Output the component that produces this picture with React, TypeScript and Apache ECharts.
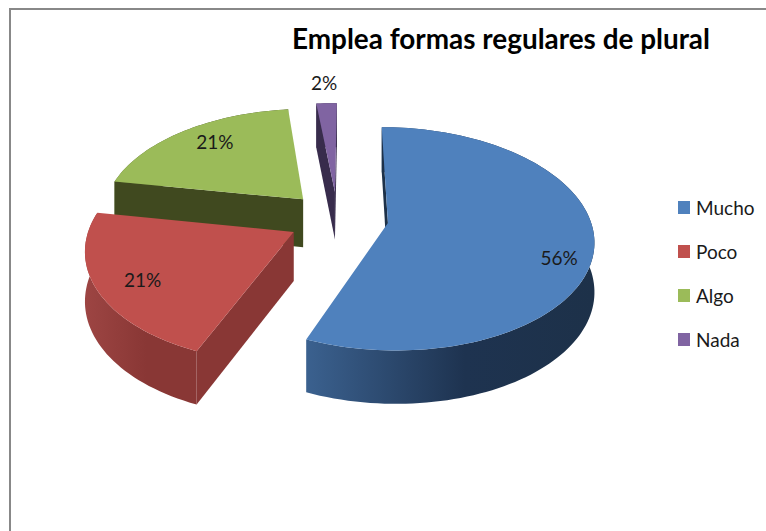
import React, { useEffect, useRef } from "react";
import * as echarts from "echarts";

const categories = ["Mucho", "Poco", "Algo", "Nada"];
const values = [56, 21, 21, 2];
const topColors = ["#4f81bd", "#c0504d", "#9bbb59", "#8064a2"];
const cutColors = ["#1d3149", "#893735", "#40491f", "#382c4c"];
const wallStops = [
  ["#3b618f", "#1e3350", "#1d3149"],
  ["#9d4543", "#893735", "#893735"],
  ["#5a6e33", "#40491f", "#40491f"],
  ["#4c3c62", "#382c4c", "#382c4c"],
];
const labelRadius = [0.85, 0.79, 0.79, 1.27];
const labelTurn = [0.17, 0, 0.1, 0.01];
const drawOrder = [3, 2, 1, 0];

const FONT = "Lato, 'Open Sans', sans-serif";
const CX = 338, CY = 218, RX = 202, RY = 108, K = 0.14, EXPLODE = 0.25, DEPTH = 48.5;
const total = values.reduce((a, b) => a + b, 0);
const DEG = Math.PI / 180;

function project(X: number, Y: number) {
  const s = 1 / (1 + K * Y);
  return { x: CX + X * RX * s, y: CY - Y * RY * s, h: DEPTH * Math.pow(s, 0.6) };
}

// The original's 3-D view turns the rear left of the pie slightly.
function viewAngle(a: number) {
  if (a <= 185 * DEG) return a;
  return a + 3 * DEG * Math.sin((Math.PI * (a - 185 * DEG)) / (185 * DEG));
}

function sliceAngles(i: number) {
  const before = values.slice(0, i).reduce((a, b) => a + b, 0);
  return [(before / total) * Math.PI * 2, ((before + values[i]) / total) * Math.PI * 2];
}

function renderSlice(i: number) {
  const [a0, a1] = sliceAngles(i);
  const mid = (a0 + a1) / 2;
  const ox = Math.sin(mid) * EXPLODE;
  const oy = Math.cos(mid) * EXPLODE;
  const apex = project(ox, oy);
  const arc: { x: number; y: number; h: number }[] = [];
  const steps = Math.max(4, Math.ceil((a1 - a0) / 0.03));
  for (let k = 0; k <= steps; k++) {
    const a = viewAngle(a0 + ((a1 - a0) * k) / steps);
    arc.push(project(ox + Math.sin(a), oy + Math.cos(a)));
  }
  const first = arc[0];
  const last = arc[arc.length - 1];
  const quad = (p: any, q: any) => [
    [p.x, p.y], [q.x, q.y], [q.x, q.y + q.h], [p.x, p.y + p.h],
  ];
  const wall = [
    ...arc.map((p) => [p.x, p.y]),
    ...arc.slice().reverse().map((p) => [p.x, p.y + p.h]),
  ];
  const top = [[apex.x, apex.y], ...arc.map((p) => [p.x, p.y])];
  const lr = labelRadius[i];
  const la = mid + labelTurn[i];
  const lab = project(ox + Math.sin(la) * lr, oy + Math.cos(la) * lr);
  const stops = wallStops[i];
  const cuts: any[] = [];
  if (first.x < apex.x) {
    cuts.push({ type: "polygon", shape: { points: quad(apex, first) }, style: { fill: cutColors[i] } });
  }
  if (last.x > apex.x) {
    cuts.push({ type: "polygon", shape: { points: quad(apex, last) }, style: { fill: cutColors[i] } });
  }
  return {
    type: "group",
    children: [
      {
        type: "polygon",
        shape: { points: wall },
        style: {
          fill: new echarts.graphic.LinearGradient(0, 0, 1, 0, [
            { offset: 0, color: stops[0] },
            { offset: 0.55, color: stops[1] },
            { offset: 1, color: stops[2] },
          ]),
        },
      },
      ...cuts,
      { type: "polygon", shape: { points: top }, style: { fill: topColors[i] } },
      {
        type: "text",
        x: lab.x,
        y: lab.y,
        style: {
          text: `${values[i]}%`,
          fill: "#1a1a1a",
          font: `19px ${FONT}`,
          align: "center",
          verticalAlign: "middle",
        },
      },
    ],
  };
}

export default function App() {
  const ref = useRef<HTMLDivElement>(null);
  useEffect(() => {
    const chart = echarts.init(ref.current!, undefined, { renderer: "svg" });
    chart.setOption({
      animation: false,
      backgroundColor: "#ffffff",
      title: {
        text: "Emplea formas regulares de plural",
        left: 292,
        top: 24,
        padding: 0,
        textStyle: { fontFamily: FONT, fontWeight: "bold", fontSize: 27.9, color: "#000000" },
      },
      legend: {
        orient: "vertical",
        left: 678,
        top: 198,
        padding: 0,
        itemWidth: 12,
        itemHeight: 13,
        itemGap: 25,
        icon: "rect",
        data: categories,
        textStyle: { fontFamily: FONT, fontSize: 19, color: "#1a1a1a", padding: [0, 0, 0, 1] },
      },
      graphic: [
        { type: "line", shape: { x1: 10, y1: 9, x2: 766, y2: 9 }, style: { stroke: "#888888", lineWidth: 2 } },
        { type: "line", shape: { x1: 10, y1: 8, x2: 10, y2: 531 }, style: { stroke: "#888888", lineWidth: 2 } },
      ],
      series: drawOrder.map((i, order) => ({
        type: "custom",
        name: categories[i],
        coordinateSystem: "none",
        z: 2 + order,
        silent: true,
        itemStyle: { color: topColors[i] },
        data: [[values[i]]],
        renderItem: () => renderSlice(i),
      })),
    });
    return () => chart.dispose();
  }, []);
  return <div ref={ref} style={{ position: "absolute", left: 0, top: 0, width: 766, height: 531 }} />;
}
